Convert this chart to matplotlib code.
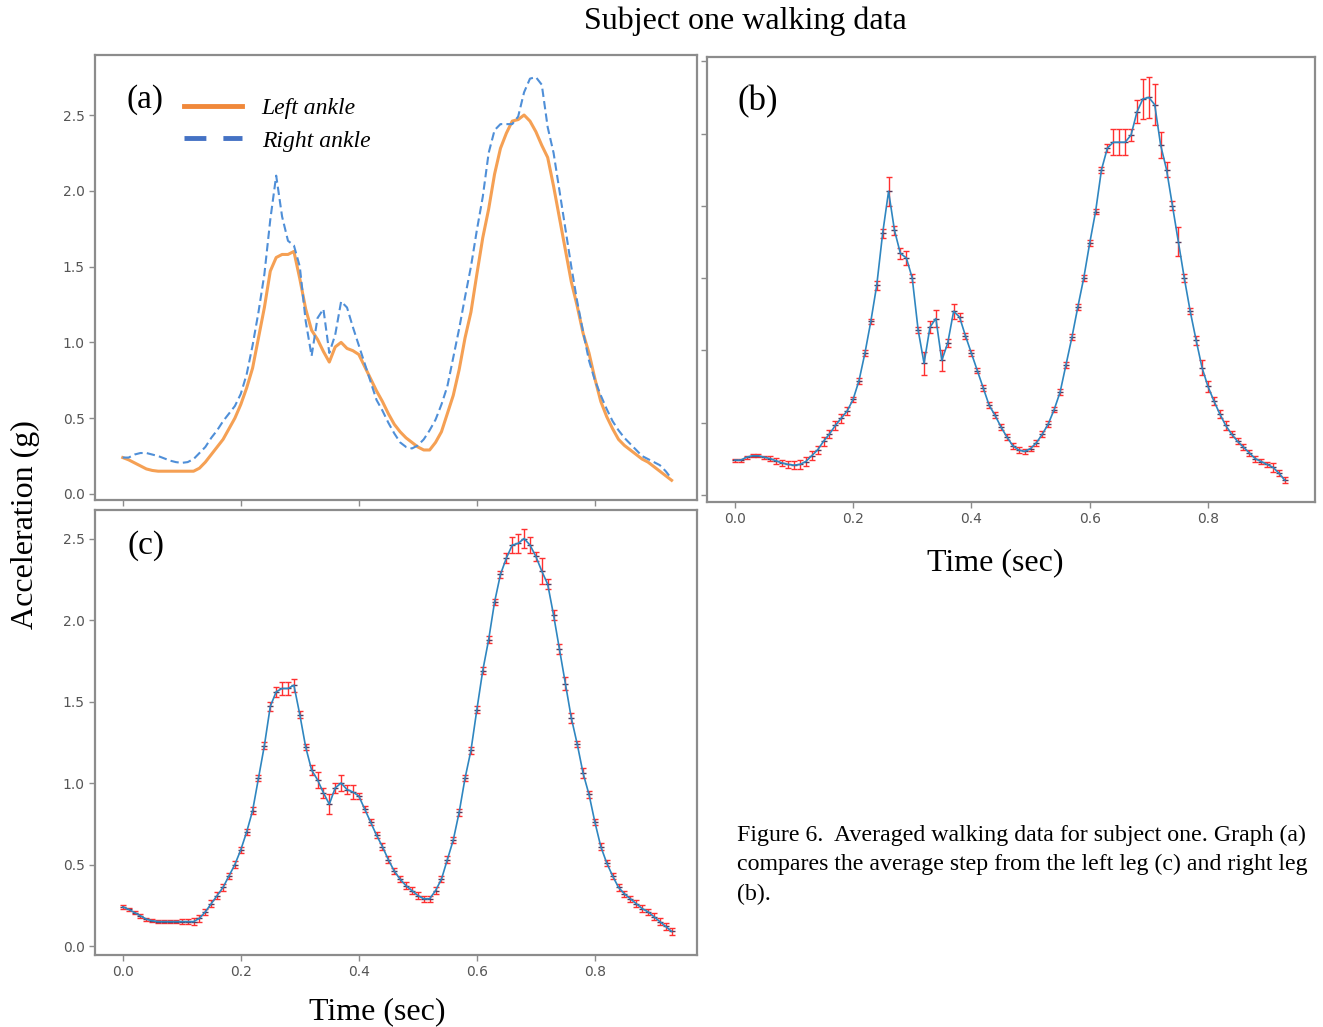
import numpy as np
import matplotlib
matplotlib.use('Agg')
import matplotlib.pyplot as plt
from matplotlib.lines import Line2D

# time axis (100 Hz samples)
t = np.round(np.arange(94) * 0.01, 2)

left_ankle = [
    0.24, 0.225, 0.205, 0.185, 0.165, 0.155, 0.15, 0.15, 0.15, 0.15,
    0.15, 0.15, 0.15, 0.17, 0.21, 0.26, 0.31, 0.36, 0.43, 0.50,
    0.59, 0.70, 0.83, 1.03, 1.23, 1.47, 1.56, 1.58, 1.58, 1.60,
    1.42, 1.22, 1.08, 1.02, 0.94, 0.87, 0.97, 1.00, 0.96, 0.945,
    0.92, 0.84, 0.76, 0.68, 0.61, 0.53, 0.46, 0.41, 0.37, 0.34,
    0.31, 0.29, 0.29, 0.34, 0.41, 0.53, 0.65, 0.82, 1.03, 1.20,
    1.45, 1.69, 1.88, 2.11, 2.28, 2.38, 2.46, 2.47, 2.50, 2.46,
    2.39, 2.30, 2.22, 2.03, 1.82, 1.61, 1.40, 1.24, 1.06, 0.93,
    0.76, 0.61, 0.51, 0.43, 0.36, 0.32, 0.29, 0.26, 0.23, 0.21,
    0.18, 0.15, 0.12, 0.09]

left_err = [
    0.01, 0.01, 0.01, 0.01, 0.01, 0.01, 0.01, 0.01, 0.01, 0.01,
    0.015, 0.015, 0.02, 0.02, 0.02, 0.02, 0.02, 0.02, 0.02, 0.02,
    0.02, 0.02, 0.02, 0.02, 0.02, 0.03, 0.03, 0.04, 0.04, 0.04,
    0.02, 0.02, 0.03, 0.05, 0.03, 0.06, 0.03, 0.05, 0.03, 0.04,
    0.02, 0.02, 0.02, 0.02, 0.02, 0.02, 0.02, 0.02, 0.02, 0.02,
    0.02, 0.02, 0.02, 0.02, 0.02, 0.02, 0.02, 0.02, 0.02, 0.02,
    0.02, 0.02, 0.02, 0.02, 0.02, 0.03, 0.05, 0.06, 0.06, 0.05,
    0.03, 0.08, 0.03, 0.03, 0.03, 0.04, 0.03, 0.02, 0.03, 0.02,
    0.02, 0.02, 0.02, 0.02, 0.02, 0.02, 0.02, 0.02, 0.02, 0.02,
    0.02, 0.02, 0.02, 0.02]

right_ankle = [
    0.24, 0.24, 0.26, 0.27, 0.27, 0.26, 0.25, 0.235, 0.22, 0.21,
    0.205, 0.21, 0.23, 0.27, 0.31, 0.37, 0.42, 0.48, 0.53, 0.58,
    0.66, 0.79, 0.98, 1.20, 1.45, 1.81, 2.10, 1.83, 1.67, 1.64,
    1.50, 1.14, 0.91, 1.16, 1.22, 0.93, 1.05, 1.27, 1.23, 1.10,
    0.98, 0.86, 0.74, 0.62, 0.55, 0.47, 0.40, 0.34, 0.31, 0.30,
    0.32, 0.36, 0.42, 0.49, 0.59, 0.71, 0.90, 1.09, 1.30, 1.50,
    1.74, 1.96, 2.25, 2.40, 2.44, 2.44, 2.44, 2.49, 2.65, 2.74,
    2.75, 2.70, 2.42, 2.25, 2.00, 1.75, 1.50, 1.27, 1.07, 0.88,
    0.75, 0.65, 0.56, 0.48, 0.42, 0.37, 0.33, 0.29, 0.25, 0.23,
    0.21, 0.19, 0.15, 0.10]

right_err = [
    0.01, 0.01, 0.01, 0.01, 0.01, 0.01, 0.015, 0.02, 0.02, 0.025,
    0.03, 0.03, 0.03, 0.03, 0.03, 0.03, 0.03, 0.03, 0.03, 0.03,
    0.02, 0.02, 0.02, 0.02, 0.03, 0.03, 0.10, 0.03, 0.04, 0.05,
    0.03, 0.02, 0.08, 0.04, 0.06, 0.07, 0.03, 0.05, 0.03, 0.02,
    0.02, 0.02, 0.02, 0.02, 0.02, 0.02, 0.02, 0.02, 0.02, 0.02,
    0.02, 0.02, 0.02, 0.02, 0.02, 0.02, 0.02, 0.02, 0.02, 0.02,
    0.02, 0.02, 0.02, 0.03, 0.09, 0.09, 0.09, 0.04, 0.08, 0.14,
    0.14, 0.14, 0.09, 0.05, 0.03, 0.10, 0.03, 0.02, 0.03, 0.05,
    0.04, 0.03, 0.03, 0.03, 0.02, 0.02, 0.02, 0.02, 0.02, 0.02,
    0.02, 0.03, 0.02, 0.02]

xticks = [0.0, 0.2, 0.4, 0.6, 0.8]
yticks = [0.0, 0.5, 1.0, 1.5, 2.0, 2.5]

serif = 'Liberation Serif'
W, H = 1323, 1027
fig = plt.figure(figsize=(W / 100, H / 100), dpi=100)


def box(l, top, r, b):
    return [l / W, 1 - b / H, (r - l) / W, (b - top) / H]


def style(ax):
    for s in ax.spines.values():
        s.set_color('#8c8c8c')
        s.set_linewidth(1.6)
    ax.tick_params(colors='#8c8c8c', labelcolor='#555555', labelsize=10,
                   length=4, width=1)


ax_a = fig.add_axes(box(95, 55, 697, 500))
ax_b = fig.add_axes(box(707, 57, 1315, 502))
ax_c = fig.add_axes(box(95, 510, 697, 955))

# (a) both ankles
ax_a.plot(t, left_ankle, color='#f5a054', lw=2.2)
ax_a.plot(t, right_ankle, color='#4f8fd8', lw=1.5, ls=(0, (4, 2)))
ax_a.set_xlim(-0.047, 0.973)
ax_a.set_ylim(-0.04, 2.896)
ax_a.set_xticks(xticks)
ax_a.set_xticklabels([])
ax_a.set_yticks(yticks)
style(ax_a)
handles = [Line2D([], [], color='#f0883a', lw=3.5),
           Line2D([], [], color='#4472c4', lw=3.5, ls=(0, (4.5, 3.5)))]
ax_a.legend(handles, ['Left ankle', 'Right ankle'], loc='upper left',
            bbox_to_anchor=(0.128, 0.93), frameon=False, handlelength=2.45,
            handletextpad=0.85, labelspacing=0.45, borderpad=0,
            prop={'family': serif, 'style': 'italic', 'size': 17})
ax_a.text(0.083, 0.9, '(a)', transform=ax_a.transAxes, ha='center',
          va='center', family=serif, fontsize=24)

# (b) right ankle with error bars
ax_b.errorbar(t, right_ankle, yerr=right_err, color='#2f86c0', lw=1.2,
              ecolor='#ff3030', elinewidth=1, capsize=2.5, capthick=1)
ax_b.plot(t, right_ankle, ls='none', marker='_', ms=5, color='#5a3a5a')
ax_b.set_xlim(-0.047, 0.981)
ax_b.set_ylim(-0.05, 3.03)
ax_b.set_xticks(xticks)
ax_b.set_yticks([0.0, 0.5, 1.0, 1.5, 2.0, 2.5, 3.0])
ax_b.set_yticklabels([])
style(ax_b)
ax_b.text(0.084, 0.9, '(b)', transform=ax_b.transAxes, ha='center',
          va='center', family=serif, fontsize=25)

# (c) left ankle with error bars
ax_c.errorbar(t, left_ankle, yerr=left_err, color='#2f86c0', lw=1.2,
              ecolor='#ff3030', elinewidth=1, capsize=2.5, capthick=1)
ax_c.plot(t, left_ankle, ls='none', marker='_', ms=5, color='#5a3a5a')
ax_c.set_xlim(-0.047, 0.973)
ax_c.set_ylim(-0.055, 2.675)
ax_c.set_xticks(xticks)
ax_c.set_yticks(yticks)
style(ax_c)
ax_c.text(0.085, 0.92, '(c)', transform=ax_c.transAxes, ha='center',
          va='center', family=serif, fontsize=24)

fig.text(995 / W, 1 - 563 / H, 'Time (sec)', ha='center', va='center',
         family=serif, fontsize=23)
fig.text(377 / W, 1 - 1012 / H, 'Time (sec)', ha='center', va='center',
         family=serif, fontsize=23)
fig.text(745 / W, 1 - 21 / H, 'Subject one walking data', ha='center',
         va='center', family=serif, fontsize=23)
fig.text(25 / W, 1 - 525 / H, 'Acceleration (g)', ha='center', va='center',
         rotation=90, family=serif, fontsize=23)
fig.text(737 / W, 1 - 825 / H,
         'Figure 6.  Averaged walking data for subject one. Graph (a)\n'
         'compares the average step from the left leg (c) and right leg\n'
         '(b).', ha='left', va='top', family=serif, fontsize=17.2,
         linespacing=1.5)

fig.savefig('out.png', dpi=100)
